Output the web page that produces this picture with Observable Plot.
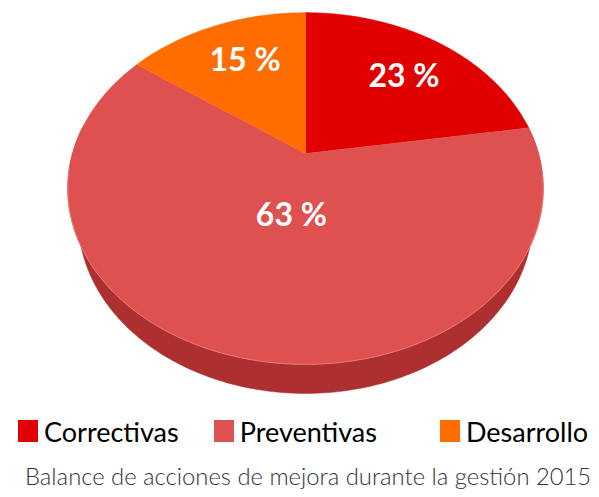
<!DOCTYPE html>
<html>
<head>
<meta charset="utf-8">
<script src="https://cdn.jsdelivr.net/npm/d3@7"></script>
<script src="https://cdn.jsdelivr.net/npm/@observablehq/plot@0.6"></script>
<style>
  html, body { margin: 0; padding: 0; background: #fff; }
  body { font-family: Lato, "Open Sans", sans-serif; width: 599px; }
  #chart svg { display: block; }
  body .lg-swatches {
    font-family: Lato, sans-serif !important;
    font-size: 27px !important;
    margin: 0 !important;
    display: flex !important;
    justify-content: flex-start;
    align-items: center;
    height: 42px;
    min-height: 0 !important;
    padding: 0 0 0 18px;
    color: #000;
    flex-wrap: nowrap !important;
  }
  body .lg-swatch { margin-right: 0 !important; color: #000; }
  body .lg-swatch:nth-of-type(1) { margin-right: 35px !important; }
  body .lg-swatch:nth-of-type(2) { margin-right: 63px !important; }
  body .lg-swatch > svg { margin-right: 6px !important; }
  #caption {
    font-family: Lato, sans-serif;
    font-size: 23.8px;
    font-weight: 300;
    color: #333;
    line-height: 28px;
    margin-top: 10px;
    padding-left: 25px;
    white-space: nowrap;
  }
</style>
</head>
<body>
<div id="chart"></div>
<div id="legend"></div>
<div id="caption"></div>
<script>
// ---- data ----
const categories = ["Correctivas", "Preventivas", "Desarrollo"];
const values = [22.5, 62.5, 15];
const colors = ["#e00000", "#df5050", "#ff6c00"];
const wallColor = "#ae2f30";
const captionText = "Balance de acciones de mejora durante la gestión 2015";

// ---- 3D perspective projection of a tilted disc ----
const sinP = 0.725, cosP = 0.688, dist = 3.46, thick = 0.212;
function proj(u, v, w) {
  const depth = 1 + (v * cosP - w * sinP) / dist;
  return {X: u / depth, Y: (v * sinP + w * cosP) / depth};
}

const arcs = d3.pie().sort(null).value(d => d)(values);
const deg = Math.PI / 180;

// top face slices
const sliceRows = [];
arcs.forEach((a, i) => {
  const cat = categories[i];
  sliceRows.push({cat, ...proj(0, 0, 0)});
  const n = Math.max(2, Math.ceil((a.endAngle - a.startAngle) / (0.5 * deg)));
  for (let k = 0; k <= n; k++) {
    const t = a.startAngle + (a.endAngle - a.startAngle) * k / n;
    sliceRows.push({cat, ...proj(Math.sin(t), Math.cos(t), 0)});
  }
  sliceRows.push({cat, ...proj(0, 0, 0)});
});

// side wall (front half) as one band: top rim forward, bottom rim back
const wallRows = [];
const rimRows = [];
const a0 = 80 * deg, a1 = 280 * deg, steps = 200;
for (let k = 0; k <= steps; k++) {
  const t = a0 + (a1 - a0) * k / steps;
  const p = proj(Math.sin(t), Math.cos(t), 0);
  wallRows.push(p);
  if (t > 95 * deg && t < 265 * deg) rimRows.push(p);
}
for (let k = steps; k >= 0; k--) {
  const t = a0 + (a1 - a0) * k / steps;
  wallRows.push(proj(Math.sin(t), Math.cos(t), -thick));
}

// labels at sector centroid
const labelRows = arcs.map((a, i) => {
  const half = (a.endAngle - a.startAngle) / 2;
  const mid = (a.startAngle + a.endAngle) / 2;
  const r = 1.1 * (2 / 3) * Math.sin(half) / half;
  return {text: `${Math.round(values[i])} %`, ...proj(r * Math.sin(mid), r * Math.cos(mid), 0)};
});

const cx = 305, cy = 153, F = 233;
const plot = Plot.plot({
  width: 599,
  height: 410,
  margin: 0,
  style: {fontFamily: "Lato, sans-serif", background: "white"},
  x: {domain: [-1, 1], range: [cx - F, cx + F], axis: null},
  y: {domain: [-1, 1], range: [cy + F, cy - F], axis: null},
  color: {domain: categories, range: colors},
  marks: [
    Plot.line(wallRows, {x: "X", y: "Y", fill: wallColor, stroke: wallColor, strokeWidth: 0.5}),
    Plot.line(sliceRows, {x: "X", y: "Y", z: "cat", fill: "cat", stroke: "cat", strokeWidth: 0.4}),
    Plot.line(rimRows, {x: "X", y: "Y", stroke: "#e98585", strokeWidth: 0.8}),
    Plot.text(labelRows, {x: "X", y: "Y", text: "text", dx: 6, dy: 2, fill: "white", fontSize: 32, fontWeight: "bold", letterSpacing: 2})
  ]
});
document.getElementById("chart").append(plot);

const legend = plot.legend("color", {legend: "swatches", swatchWidth: 20, swatchHeight: 22, className: "lg"});
document.getElementById("legend").append(legend);
document.getElementById("caption").textContent = captionText;
</script>
</body>
</html>
